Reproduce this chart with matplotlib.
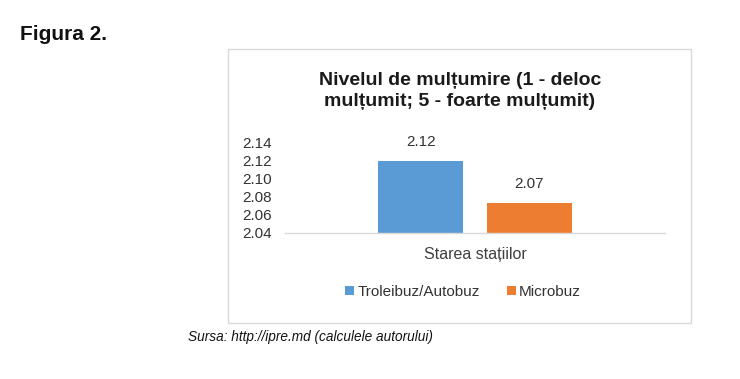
import matplotlib
matplotlib.use("Agg")
import matplotlib.pyplot as plt
from matplotlib.patches import Rectangle

plt.rcParams['font.family'] = ['Liberation Sans', 'DejaVu Sans']

category = ["Starea stațiilor"]
series_names = ["Troleibuz/Autobuz", "Microbuz"]
values = [2.12, 2.073]
value_labels = ["2.12", "2.07"]
colors = ["#5B9BD5", "#ED7D31"]
yticks = [2.04, 2.06, 2.08, 2.10, 2.12, 2.14]

W, H = 740, 379
fig = plt.figure(figsize=(W / 100, H / 100), dpi=100)

# chart frame
fig.patches.append(Rectangle((228 / W, 1 - 323 / H), 463 / W, 274 / H,
                             transform=fig.transFigure, fill=False,
                             edgecolor="#d9d9d9", linewidth=1.0))

ax = fig.add_axes([285 / W, 1 - 233 / H, 380 / W, 90 / H])
offsets = [-0.143, 0.143]
width = 0.224
handles = []
for i, (name, v, c, lab) in enumerate(zip(series_names, values, colors, value_labels)):
    b = ax.bar(0 + offsets[i], v - 2.04, bottom=2.04, width=width, color=c, label=name)
    ax.bar_label(b, labels=[lab], padding=8.5, fontsize=11, color="#333333")
    handles.append(b)

ax.set_xlim(-0.5, 0.5)
ax.set_ylim(2.04, 2.14)
ax.set_yticks(yticks)
ax.set_yticklabels([f"{t:.2f}" for t in yticks], fontsize=11, color="#333333")
ax.set_xticks([0])
ax.set_xticklabels(category, fontsize=11.5, color="#404040")
ax.tick_params(axis="both", length=0)
ax.tick_params(axis="x", pad=10)
ax.tick_params(axis="y", pad=9.5)
for s in ["top", "right", "left"]:
    ax.spines[s].set_visible(False)
ax.spines["bottom"].set_color("#d9d9d9")
ax.spines["bottom"].set_linewidth(1.0)
ax.patch.set_visible(False)

fig.legend(handles=handles, labels=series_names, loc="center",
           bbox_to_anchor=(463 / W, 1 - 292 / H), ncol=2, frameon=False,
           fontsize=11, handlelength=0.6, handleheight=0.6, handletextpad=0.2,
           columnspacing=1.8, labelcolor="#333333")

fig.text(460 / W, 1 - 91 / H, "Nivelul de mulțumire (1 - deloc\nmulțumit; 5 - foarte mulțumit)",
         ha="center", va="center", fontsize=14, fontweight="bold", linespacing=1.25,
         color="#1a1a1a")

fig.text(20 / W, 1 - 34 / H, "Figura 2.", ha="left", va="center", fontsize=15,
         fontweight="bold", color="#111111")
fig.text(188 / W, 1 - 337 / H, "Sursa: http://ipre.md (calculele autorului)",
         ha="left", va="center", fontsize=9.8, fontstyle="italic", color="#111111")

fig.savefig("out.png", dpi=100)
